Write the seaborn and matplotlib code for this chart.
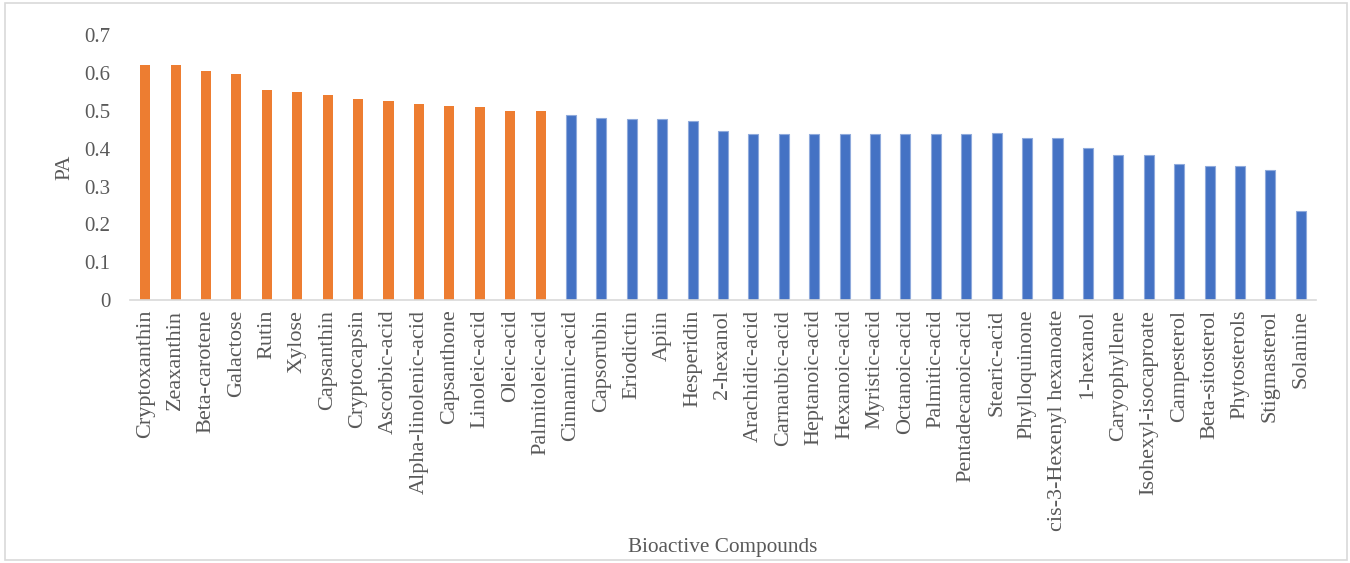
import matplotlib
matplotlib.use("Agg")
import matplotlib.pyplot as plt
import seaborn as sns
import pandas as pd
from matplotlib.patches import Rectangle

compounds = [
    "Cryptoxanthin", "Zeaxanthin", "Beta-carotene", "Galactose", "Rutin", "Xylose",
    "Capsanthin", "Cryptocapsin", "Ascorbic-acid", "Alpha-linolenic-acid", "Capsanthone",
    "Linoleic-acid", "Oleic-acid", "Palmitoleic-acid", "Cinnamic-acid", "Capsorubin",
    "Eriodictin", "Apiin", "Hesperidin", "2-hexanol", "Arachidic-acid", "Carnaubic-acid",
    "Heptanoic-acid", "Hexanoic-acid", "Myristic-acid", "Octanoic-acid", "Palmitic-acid",
    "Pentadecanoic-acid", "Stearic-acid", "Phylloquinone", "cis-3-Hexenyl hexanoate",
    "1-hexanol", "Caryophyllene", "Isohexyl-isocaproate", "Campesterol", "Beta-sitosterol",
    "Phytosterols", "Stigmasterol", "Solanine",
]
pa_values = [
    0.622, 0.622, 0.606, 0.598, 0.556, 0.550, 0.542, 0.532, 0.526, 0.519, 0.513,
    0.511, 0.500, 0.500, 0.489, 0.482, 0.479, 0.478, 0.475, 0.446, 0.440, 0.440,
    0.440, 0.440, 0.440, 0.440, 0.440, 0.440, 0.441, 0.430, 0.430,
    0.401, 0.383, 0.383, 0.359, 0.354, 0.354, 0.343, 0.236,
]
n_high = 14
groups = ["high"] * n_high + ["low"] * (len(compounds) - n_high)
group_colors = {"high": "#ED7D31", "low": "#4472C4"}
y_ticks = [0, 0.1, 0.2, 0.3, 0.4, 0.5, 0.6, 0.7]
y_tick_labels = ["0", "0.1", "0.2", "0.3", "0.4", "0.5", "0.6", "0.7"]

df = pd.DataFrame({"Compound": compounds, "PA": pa_values, "Group": groups})

sns.set_theme(style="white")
plt.rcParams["font.family"] = ["Liberation Serif", "DejaVu Serif"]

fig = plt.figure(figsize=(13.5, 5.63), dpi=100)
ax = fig.add_axes([130 / 1350, 1 - 300 / 563, 1186 / 1350, 264.5 / 563])

sns.barplot(data=df, x="Compound", y="PA", hue="Group", palette=group_colors,
            dodge=False, width=0.33, legend=False, ax=ax, saturation=1)

# blue bars carry a thin light outline, orange bars none
for bar in ax.patches:
    fc = bar.get_facecolor()
    if fc[2] > fc[0]:
        bar.set_edgecolor("#8FAADC")
        bar.set_linewidth(0.8)
    else:
        bar.set_linewidth(0)

ax.set_xlim(-0.5, len(compounds) - 0.5)
ax.set_ylim(0, 0.7)
ax.set_yticks(y_ticks)
ax.set_yticklabels(y_tick_labels)
ax.tick_params(axis="y", length=0, pad=14, labelsize=15, labelcolor="#595959")
ax.tick_params(axis="x", length=0, pad=7, labelsize=16, labelcolor="#595959",
               rotation=90)

for side in ["top", "right", "left"]:
    ax.spines[side].set_visible(False)
ax.spines["bottom"].set_color("#D9D9D9")
ax.spines["bottom"].set_linewidth(1.2)

ax.set_ylabel("PA", fontsize=15.5, color="#595959")
ax.set_xlabel("Bioactive Compounds", fontsize=15.3, color="#595959")
ax.yaxis.set_label_coords(-0.047, 0.5)
ax.xaxis.set_label_coords(0.5, -0.9)
ax.grid(False)

fig.patches.append(Rectangle((5 / 1350, 1 - 560 / 563), 1342 / 1350, 557 / 563,
                             transform=fig.transFigure, fill=False,
                             edgecolor="#D9D9D9", linewidth=1.2))

fig.savefig("out.png", dpi=100, facecolor="white")
